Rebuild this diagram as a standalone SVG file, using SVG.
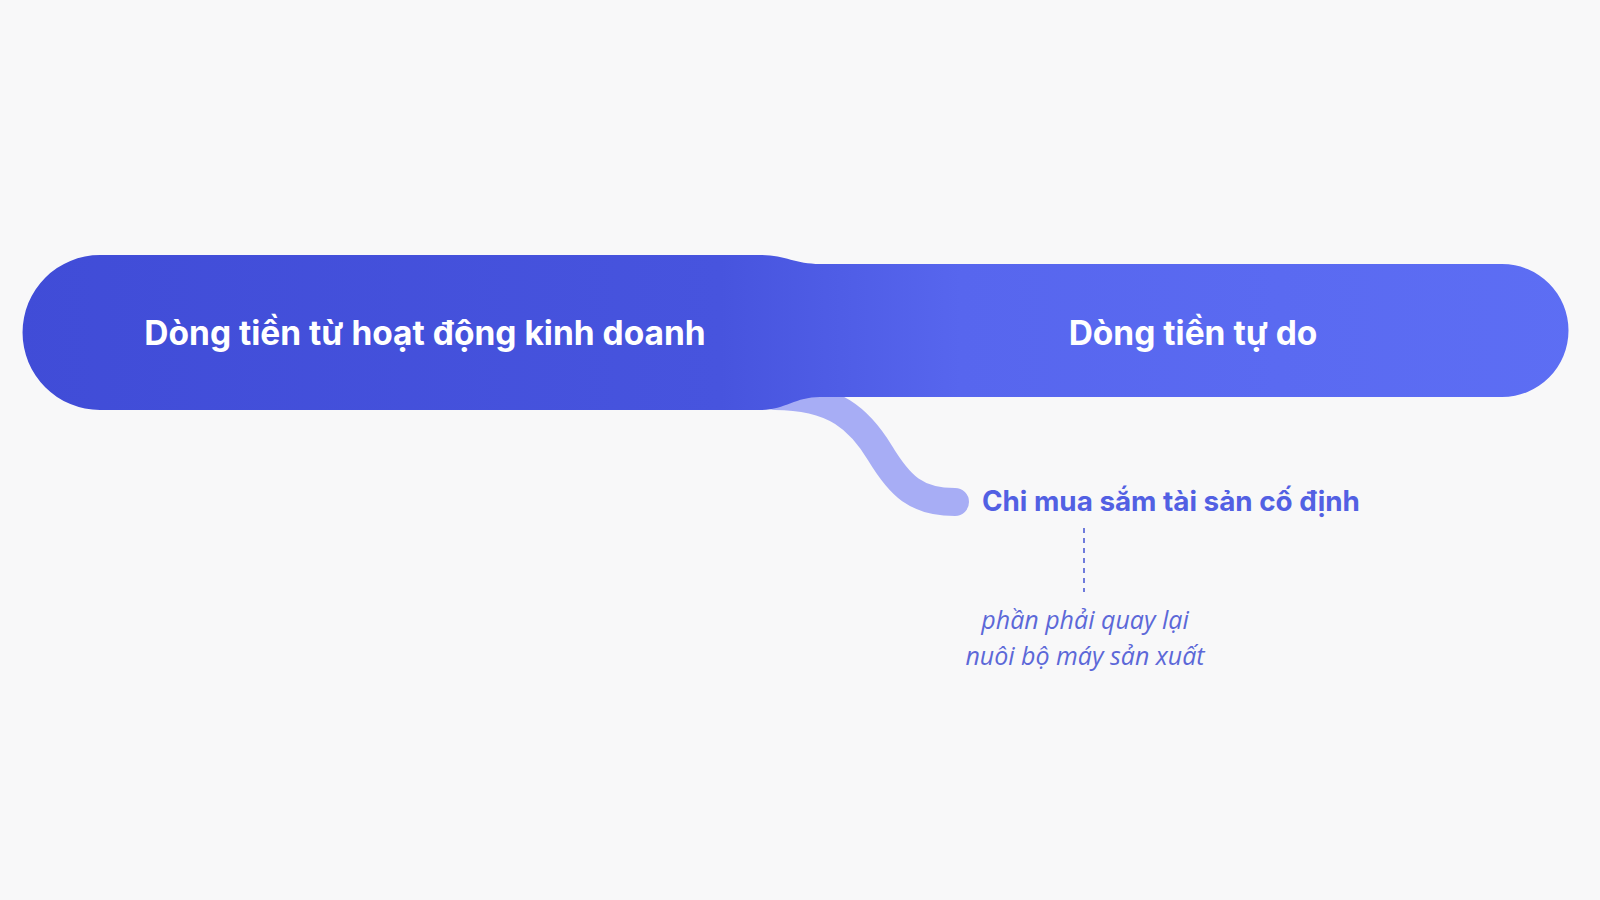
<svg xmlns="http://www.w3.org/2000/svg" width="1600" height="900" viewBox="0 0 1600 900">
<defs>
<linearGradient id="barGrad" x1="0" y1="0" x2="1600" y2="0" gradientUnits="userSpaceOnUse">
<stop offset="0" stop-color="#404cd7"/>
<stop offset="0.45" stop-color="#4754de"/>
<stop offset="0.6" stop-color="#5766ee"/>
<stop offset="1" stop-color="#5d6ef4"/>
</linearGradient>
<style>
.bar-label{font-family:Inter,"Noto Sans","DejaVu Sans",sans-serif;font-weight:700;font-size:33.5px;fill:#ffffff;text-anchor:middle}
.branch-label{font-family:Inter,"Noto Sans","DejaVu Sans",sans-serif;font-weight:700;font-size:27.8px;fill:#5260e3}
.note{font-family:"Open Sans","Noto Sans","DejaVu Sans",sans-serif;font-style:italic;font-size:25px;fill:#5c68d8;text-anchor:middle}
.branch{fill:none;stroke:#a7adf5;stroke-width:28;stroke-linecap:round}
.dash{stroke:#6f7bdc;stroke-width:2;stroke-dasharray:5 5;fill:none}
</style>
</defs>
<rect width="1600" height="900" fill="#f8f8f9"/>
<g id="connectors">
<path class="branch" d="M 775 396 C 835 396 860 420 880 453 C 900 486 916 502 955 502"/>
<line class="dash" x1="1084" y1="528" x2="1084" y2="592"/>
</g>
<g id="flow-bar">
<path d="M 100 255 L 760 255 C 785 255 795 264 820 264 L 1502 264 A 66.5 66.5 0 0 1 1502 397 L 820 397 C 795 397 785 410 760 410 L 100 410 A 77.5 77.5 0 0 1 100 255 Z" fill="url(#barGrad)"/>
</g>
<g id="node-operating">
<text class="bar-label" x="425" y="345">Dòng tiền từ hoạt động kinh doanh</text>
</g>
<g id="node-free">
<text class="bar-label" x="1193" y="345">Dòng tiền tự do</text>
</g>
<g id="node-capex">
<text class="branch-label" x="982" y="511">Chi mua sắm tài sản cố định</text>
</g>
<g id="node-note">
<text class="note" x="1085" y="629">phần phải quay lại</text>
<text class="note" x="1085" y="665">nuôi bộ máy sản xuất</text>
</g>
</svg>
